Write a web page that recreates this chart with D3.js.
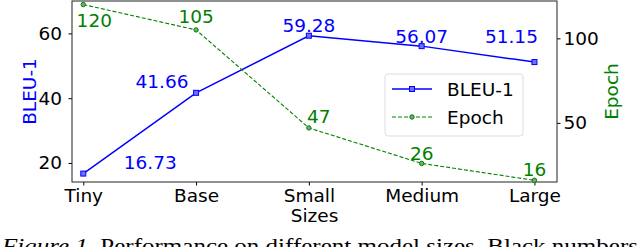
<!DOCTYPE html>
<html>
<head>
<meta charset="utf-8">
<style>
  body { margin: 0; background: #fff; }
  text { font-family: "DejaVu Sans", sans-serif; }
  text.cap { font-family: "Liberation Serif", serif; }
</style>
</head>
<body>
<svg width="640" height="247"></svg>
<script src="https://d3js.org/d3.v7.min.js"></script>
<script>
var sizes = ["Tiny", "Base", "Small", "Medium", "Large"];
var bleu = [16.73, 41.66, 59.28, 56.07, 51.15];
var epoch = [120, 105, 47, 26, 16];
var bleuTicks = [20, 40, 60];
var epochTicks = [50, 100];

// label offsets (px) from each point
var bleuDx = [67, -34, 0, 0, -23];
var bleuDy = [-5, -5, -4, -3, -19];
var epochDx = [11, 0, 10, 0, 0];
var epochDy = [22, -7, -4.5, -3.5, -4];

var svg = d3.select("svg");
var pLeft = 72, pRight = 557, pTop = 1, pBottom = 182;
var fs = 18.5;

var x = d3.scaleLinear().domain([-0.1, 4.2]).range([pLeft, pRight]);
var y = d3.scaleLinear().domain([14.13, 70.0]).range([pBottom, pTop]);
var y2 = d3.scaleLinear().domain([15.0, 122.1]).range([pBottom, pTop]);

var blue = "#0000ff", green = "#008000";

function clean(g) {
  g.select(".domain").remove();
  g.selectAll("line").attr("stroke", "#000");
  g.selectAll("text").attr("font-size", fs).attr("fill", "#000");
}

svg.append("g")
    .attr("transform", "translate(0," + pBottom + ")")
    .call(d3.axisBottom(x).tickValues(d3.range(sizes.length)).tickFormat(function(i) { return sizes[i]; }).tickSize(3.5).tickPadding(3))
    .call(clean);

svg.append("g")
    .attr("transform", "translate(" + pLeft + ",0)")
    .call(d3.axisLeft(y).tickValues(bleuTicks).tickSize(3.5).tickPadding(6.5))
    .call(clean);

svg.append("g")
    .attr("transform", "translate(" + pRight + ",0)")
    .call(d3.axisRight(y2).tickValues(epochTicks).tickSize(3.5).tickPadding(3))
    .call(clean);

svg.append("rect")
    .attr("x", pLeft).attr("y", pTop)
    .attr("width", pRight - pLeft).attr("height", pBottom - pTop)
    .attr("fill", "none").attr("stroke", "#222").attr("stroke-width", 1);

var idx = d3.range(sizes.length);

svg.append("path")
    .datum(idx)
    .attr("fill", "none").attr("stroke", blue).attr("stroke-width", 1.5)
    .attr("d", d3.line().x(function(i) { return x(i); }).y(function(i) { return y(bleu[i]); }));

svg.append("path")
    .datum(idx)
    .attr("fill", "none").attr("stroke", green).attr("stroke-width", 1.1)
    .attr("stroke-dasharray", "4,2")
    .attr("d", d3.line().x(function(i) { return x(i); }).y(function(i) { return y2(epoch[i]); }));

svg.selectAll(".sq").data(idx).enter().append("rect")
    .attr("x", function(i) { return x(i) - 2.5; })
    .attr("y", function(i) { return y(bleu[i]) - 2.5; })
    .attr("width", 5).attr("height", 5)
    .attr("fill", "#6f6fff").attr("stroke", blue).attr("stroke-width", 1);

svg.selectAll(".ci").data(idx).enter().append("circle")
    .attr("cx", function(i) { return x(i); })
    .attr("cy", function(i) { return y2(epoch[i]); })
    .attr("r", 2.2)
    .attr("fill", "#6fb06f").attr("stroke", green).attr("stroke-width", 1);

svg.selectAll(".bl").data(idx).enter().append("text")
    .attr("x", function(i) { return x(i) + bleuDx[i]; })
    .attr("y", function(i) { return y(bleu[i]) + bleuDy[i]; })
    .attr("text-anchor", "middle").attr("font-size", fs).attr("fill", blue)
    .text(function(i) { return bleu[i].toFixed(2); });

svg.selectAll(".el").data(idx).enter().append("text")
    .attr("x", function(i) { return x(i) + epochDx[i]; })
    .attr("y", function(i) { return y2(epoch[i]) + epochDy[i]; })
    .attr("text-anchor", "middle").attr("font-size", fs).attr("fill", green)
    .text(function(i) { return epoch[i]; });

svg.append("text")
    .attr("transform", "translate(36," + ((pTop + pBottom) / 2) + ") rotate(-90)")
    .attr("text-anchor", "middle").attr("font-size", fs).attr("fill", blue)
    .text("BLEU-1");

svg.append("text")
    .attr("transform", "translate(617.5," + ((pTop + pBottom) / 2) + ") rotate(-90)")
    .attr("text-anchor", "middle").attr("font-size", fs).attr("fill", green)
    .text("Epoch");

svg.append("text")
    .attr("x", (pLeft + pRight) / 2).attr("y", 222)
    .attr("text-anchor", "middle").attr("font-size", fs).attr("fill", "#000")
    .text("Sizes");

// legend
var lg = svg.append("g").attr("transform", "translate(385,74)");
lg.append("rect").attr("width", 138).attr("height", 62).attr("rx", 3)
    .attr("fill", "#fff").attr("fill-opacity", 0.8).attr("stroke", "#ddd");
var items = [{name: "BLEU-1", c: blue, dash: null, sym: "sq"}, {name: "Epoch", c: green, dash: "4,2", sym: "ci"}];
items.forEach(function(d, k) {
  var yy = 15 + k * 28;
  lg.append("line").attr("x1", 7).attr("x2", 47).attr("y1", yy).attr("y2", yy)
      .attr("stroke", d.c).attr("stroke-width", d.dash ? 1.1 : 1.5).attr("stroke-dasharray", d.dash);
  if (d.sym === "sq") {
    lg.append("rect").attr("x", 24.5).attr("y", yy - 2.5).attr("width", 5).attr("height", 5)
        .attr("fill", "#6f6fff").attr("stroke", blue);
  } else {
    lg.append("circle").attr("cx", 27).attr("cy", yy).attr("r", 2.2)
        .attr("fill", "#6fb06f").attr("stroke", green);
  }
  lg.append("text").attr("x", 62).attr("y", yy + 6.5).attr("font-size", fs).attr("fill", "#000").text(d.name);
});

var cap = svg.append("text").attr("class", "cap").attr("x", 2).attr("y", 253)
    .attr("font-size", 20)
    .attr("textLength", 636).attr("lengthAdjust", "spacingAndGlyphs");
cap.append("tspan").attr("font-style", "italic").text("Figure 1.");
cap.append("tspan").text(" Performance on different model sizes. Black numbers");
</script>
</body>
</html>
